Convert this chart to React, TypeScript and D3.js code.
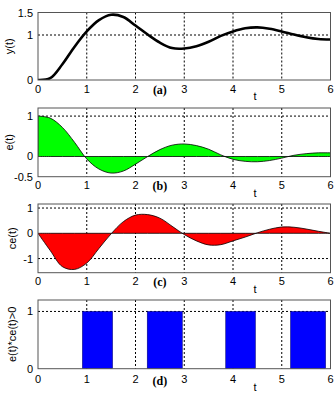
import React from "react";
import * as d3 from "d3";

// Sample instants (s)
const time = [0, 0.25, 0.5, 0.75, 1, 1.25, 1.5, 1.75, 2, 2.25, 2.5, 2.75, 3, 3.25, 3.5, 3.75, 4, 4.25, 4.5, 4.75, 5, 5.25, 5.5, 5.75, 6];
// Step response y(t)
const yResp = [0, 0.04, 0.35, 0.74, 1.08, 1.33, 1.45, 1.4, 1.21, 1.01, 0.83, 0.71, 0.7, 0.75, 0.85, 0.98, 1.08, 1.15, 1.17, 1.14, 1.08, 1.01, 0.95, 0.91, 0.9];
// Error e(t)
const err = [1, 0.95, 0.72, 0.35, -0.06, -0.31, -0.41, -0.36, -0.19, 0, 0.17, 0.28, 0.31, 0.27, 0.18, 0.04, -0.07, -0.12, -0.13, -0.1, -0.04, 0.03, 0.07, 0.09, 0.09];
// Change of error ce(t)
const cerr = [0, -0.68, -1.32, -1.43, -1.18, -0.6, -0.02, 0.46, 0.72, 0.74, 0.6, 0.28, -0.05, -0.3, -0.46, -0.45, -0.3, -0.15, 0.02, 0.16, 0.25, 0.24, 0.17, 0.08, 0];
// Intervals where e(t)*ce(t) > 0
const onStart = [0.91, 2.24, 3.85, 5.18];
const onEnd = [1.53, 2.96, 4.46, 5.9];

const xTicks = [0, 1, 2, 3, 4, 5, 6];
const xGrid = [1, 2, 3, 4, 5];

const W = 335;
const H = 398;
const x = d3.scaleLinear().domain([0, 6]).range([38, 330.5]);

type Panel = {
  key: string;
  top: number;
  bottom: number;
  domain: [number, number];
  yTicks: number[];
  yTickText: string[];
  yGrid: number[];
  title: string;
  tag: string;
};

const panels: Panel[] = [
  { key: "a", top: 12.5, bottom: 80, domain: [0, 1.5], yTicks: [0, 1, 1.5], yTickText: ["0", "1", "1.5"], yGrid: [1], title: "y(t)", tag: "(a)" },
  { key: "b", top: 108, bottom: 176.7, domain: [-0.5, 1.2], yTicks: [-0.5, 0, 1], yTickText: ["-0.5", "0", "1"], yGrid: [1], title: "e(t)", tag: "(b)" },
  { key: "c", top: 204, bottom: 272.7, domain: [-1.56, 1.16], yTicks: [-1, 0, 1], yTickText: ["-1", "0", "1"], yGrid: [-1, 1], title: "ce(t)", tag: "(c)" },
  { key: "d", top: 300, bottom: 368.7, domain: [0, 1.2], yTicks: [0, 1], yTickText: ["0", "1"], yGrid: [1], title: "e(t)*ce(t)>0", tag: "(d)" },
];

const font = "'Liberation Sans', Arial, sans-serif";

function PanelView({ p }: { p: Panel }) {
  const y = d3.scaleLinear().domain(p.domain).range([p.bottom, p.top]);
  const x0 = x.range()[0];
  const x1 = x.range()[1];
  const clipId = `clip-${p.key}`;
  const pts = time.map((t, i) => [t, i] as [number, number]);

  let data: React.ReactNode = null;
  if (p.key === "a") {
    const line = d3
      .line<[number, number]>()
      .x((d) => x(d[0]))
      .y((d) => y(yResp[d[1]]))
      .curve(d3.curveCatmullRom);
    data = <path d={line(pts) || ""} fill="none" stroke="#000" strokeWidth={2.6} strokeLinejoin="round" />;
  } else if (p.key === "b" || p.key === "c") {
    const vals = p.key === "b" ? err : cerr;
    const area = d3
      .area<[number, number]>()
      .x((d) => x(d[0]))
      .y0(y(0))
      .y1((d) => y(vals[d[1]]))
      .curve(d3.curveCatmullRom);
    data = (
      <path
        d={area(pts) || ""}
        fill={p.key === "b" ? "#00ff00" : "#ff0000"}
        stroke="#000"
        strokeWidth={0.8}
      />
    );
  } else {
    data = onStart.map((s, i) => (
      <rect
        key={i}
        x={x(s)}
        y={y(1)}
        width={x(onEnd[i]) - x(s)}
        height={y(0) - y(1)}
        fill="#0000ff"
        stroke="#000066"
        strokeWidth={0.5}
      />
    ));
  }

  const lower = p.key === "d" ? 2 : 0;

  return (
    <g>
      <defs>
        <clipPath id={clipId}>
          <rect x={x0} y={p.top} width={x1 - x0} height={p.bottom - p.top} />
        </clipPath>
      </defs>
      <rect x={x0} y={p.top} width={x1 - x0} height={p.bottom - p.top} fill="#fff" />
      {/* dotted grid */}
      <g stroke="#000" strokeWidth={1} strokeDasharray="2,2">
        {xGrid.map((t) => (
          <line key={`gx${t}`} x1={x(t)} x2={x(t)} y1={p.top} y2={p.bottom} />
        ))}
        {p.yGrid.map((v) => (
          <line key={`gy${v}`} x1={x0} x2={x1} y1={y(v)} y2={y(v)} />
        ))}
      </g>
      <g clipPath={`url(#${clipId})`}>{data}</g>
      <rect x={x0} y={p.top} width={x1 - x0} height={p.bottom - p.top} fill="none" stroke="#555" strokeWidth={1} />
      {/* tick labels */}
      <g fontFamily={font} fontSize={11} fill="#000">
        {xTicks.map((t) => (
          <text key={`tx${t}`} x={x(t)} y={p.bottom + 12.5 + lower} textAnchor="middle">
            {t}
          </text>
        ))}
        {p.yTicks.map((v, i) => (
          <text key={`ty${v}`} x={x0 - 5} y={y(v)} textAnchor="end" dominantBaseline="central">
            {p.yTickText[i]}
          </text>
        ))}
        <text x={x(4.45)} y={p.bottom + 20 + lower} textAnchor="middle">
          t
        </text>
        <text
          transform={`translate(${p.key === "a" || p.key === "b" ? 9 : 12},${(p.top + p.bottom) / 2}) rotate(-90)`}
          textAnchor="middle"
          dominantBaseline="central"
        >
          {p.title}
        </text>
      </g>
      <text
        x={x(2.5)}
        y={p.bottom + 13.5 + lower * 1.5}
        textAnchor="middle"
        fontFamily="'Liberation Serif', 'Times New Roman', serif"
        fontWeight="bold"
        fontSize={12}
        fill="#000"
      >
        {p.tag}
      </text>
    </g>
  );
}

export default function App() {
  return (
    <svg
      width={W}
      height={H}
      viewBox={`0 0 ${W} ${H}`}
      style={{ position: "absolute", left: 0, top: 0, background: "#fff" }}
    >
      <rect width={W} height={H} fill="#fff" />
      {panels.map((p) => (
        <PanelView key={p.key} p={p} />
      ))}
    </svg>
  );
}
